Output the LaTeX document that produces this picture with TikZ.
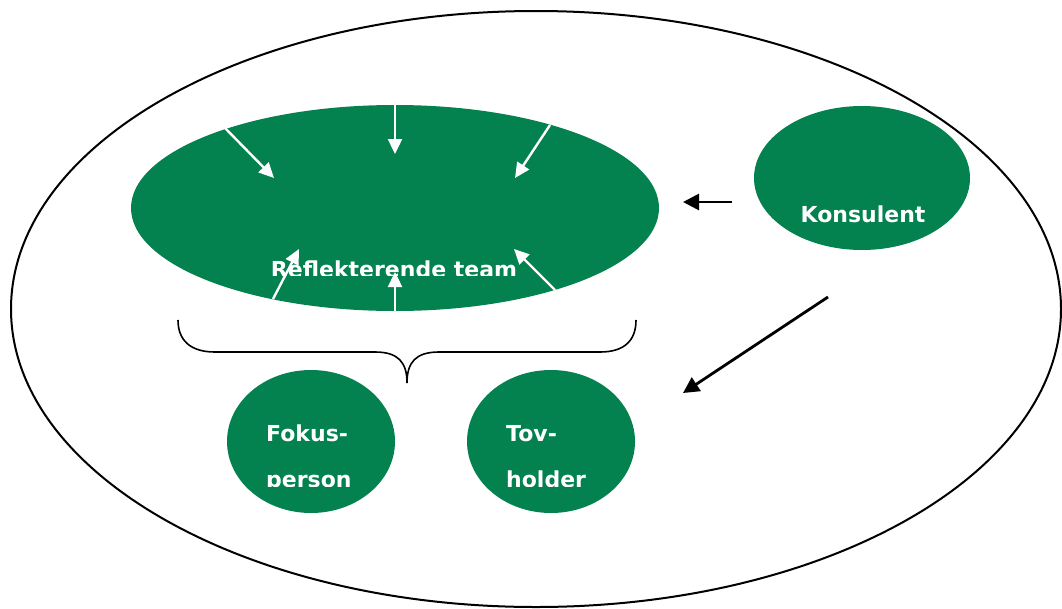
\documentclass[tikz,border=0pt]{standalone}
\usepackage{fontspec}
\setmainfont{DejaVu Sans}
\usetikzlibrary{shapes.geometric,arrows.meta}
\definecolor{teamgreen}{RGB}{3,129,78}
\begin{document}
\begin{tikzpicture}[x=1pt,y=-1pt,
  blob/.style={ellipse, fill=teamgreen, draw=none, inner sep=0pt},
  lbl/.style={text=white, font=\bfseries\fontsize{22}{22}\selectfont, inner sep=0pt},
  warrow/.style={draw=white, line width=2.4pt, -{Triangle[length=15pt,width=14pt]}},
  barrow/.style={draw=black, line width=2.8pt, -{Triangle[length=16pt,width=16pt]}},
  outline/.style={draw=black, line width=2pt}]
\useasboundingbox (0,0) rectangle (1062,608);
\clip (0,0) rectangle (1062,608);
% outer ellipse
\node[ellipse, outline, minimum width=1050pt, minimum height=596pt, inner sep=0pt] (outer) at (536,309) {};
% green ellipses
\node[blob, minimum width=528pt, minimum height=206pt] (team) at (395,208) {};
\node[blob, minimum width=216pt, minimum height=144pt] (kons) at (862,178) {};
\node[blob, minimum width=168pt, minimum height=143pt] (fokus) at (311,441.5) {};
\node[blob, minimum width=168pt, minimum height=143pt] (tov) at (551,441.5) {};
% labels
\node[lbl, anchor=base] (konslbl) at (863,222) {Konsulent};
\begin{scope}
  \clip (100,240) rectangle (700,275.5);
  \node[lbl, anchor=base] (teamlbl) at (394,277) {Reflekterende team};
\end{scope}
\node[lbl, anchor=base west] (fokus1) at (266,441) {Fokus-};
\begin{scope}
  \clip (200,450) rectangle (400,486.5);
  \node[lbl, anchor=base west] (fokus2) at (266,487) {person};
\end{scope}
\node[lbl, anchor=base west] (tov1) at (506,441) {Tov-};
\begin{scope}
  \clip (440,450) rectangle (640,486.5);
  \node[lbl, anchor=base west] (tov2) at (506,487) {holder};
\end{scope}
% white arrows inside the team ellipse
\coordinate (w1s) at (225,128); \coordinate (w1e) at (274,178);
\coordinate (w2s) at (395,105); \coordinate (w2e) at (395,154);
\coordinate (w3s) at (550,125); \coordinate (w3e) at (515,178);
\coordinate (w4s) at (273,299); \coordinate (w4e) at (299,249);
\coordinate (w5s) at (395,311); \coordinate (w5e) at (395,272);
\coordinate (w6s) at (555,290); \coordinate (w6e) at (514,249);
\draw[warrow] (w1s) -- (w1e);
\draw[warrow] (w2s) -- (w2e);
\draw[warrow] (w3s) -- (w3e);
\draw[warrow] (w4s) -- (w4e);
\draw[warrow] (w5s) -- (w5e);
\draw[warrow] (w6s) -- (w6e);
% black arrows
\coordinate (b1s) at (732,202); \coordinate (b1e) at (683,202);
\coordinate (b2s) at (828,297); \coordinate (b2e) at (683,393);
\draw[barrow] (b1s) -- (b1e);
\draw[barrow] (b2s) -- (b2e);
% brace
\coordinate (brL) at (178,320);
\coordinate (brT) at (407,383);
\coordinate (brR) at (636,320);
\draw[outline, line width=1.6pt] (brL) .. controls (178,340) and (190,352) .. (215,352) -- (375,352)
  .. controls (398,352) and (407,362) .. (brT)
  .. controls (407,362) and (416,352) .. (439,352) -- (600,352)
  .. controls (625,352) and (636,340) .. (brR);
\end{tikzpicture}
\end{document}
